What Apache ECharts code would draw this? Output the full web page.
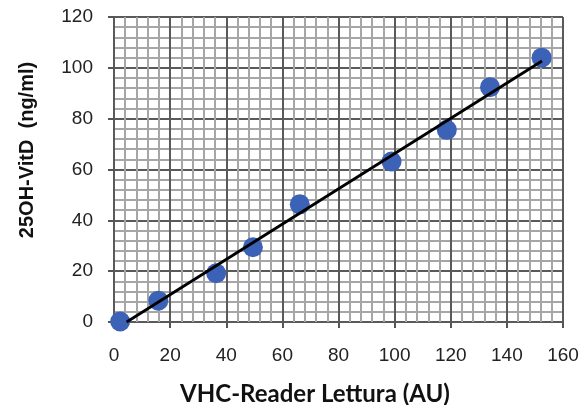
<!DOCTYPE html>
<html><head><meta charset="utf-8">
<script src="https://cdn.jsdelivr.net/npm/echarts@6/dist/echarts.min.js"></script>
<style>html,body{margin:0;padding:0;background:#fff}#c{width:582px;height:405px}</style>
</head><body><div id="c"></div>
<script>
var xValues = [2.2, 15.8, 36.4, 49.5, 66.2, 98.9, 118.6, 134.0, 152.4];
var yValues = [0.2, 8.4, 19.2, 29.4, 46.3, 63.1, 75.6, 92.4, 104.0];
var fitX = [4.5, 152.5];
var fitY = [0.0, 102.7];
var xTicks = [0, 20, 40, 60, 80, 100, 120, 140, 160];
var yTicks = [0, 20, 40, 60, 80, 100, 120];
var xTitle = 'VHC-Reader Lettura (AU)';
var yTitle = '25OH-VitD  (ng/ml)';

var pts = xValues.map(function(x, i){ return [x, yValues[i]]; });
var fit = fitX.map(function(x, i){ return [x, fitY[i]]; });

var chart = echarts.init(document.getElementById('c'), null, {renderer: 'canvas'});
chart.setOption({
  animation: false,
  backgroundColor: '#ffffff',
  grid: {left: 114, right: 19, top: 17, bottom: 83},
  xAxis: {
    type: 'value', min: xTicks[0], max: xTicks[xTicks.length-1], interval: 20,
    axisLine: {show: false},
    axisTick: {show: true, length: 6, lineStyle: {color: '#555', width: 2}},
    axisLabel: {margin: 24, fontFamily: 'Liberation Sans, Arial', fontSize: 19, color: '#222'},
    splitLine: {show: true, lineStyle: {color: '#5a5a5a', width: 2}},
    minorTick: {show: false, splitNumber: 5},
    minorSplitLine: {show: true, lineStyle: {color: '#a6a6a6', width: 2}}
  },
  yAxis: {
    type: 'value', min: yTicks[0], max: yTicks[yTicks.length-1], interval: 20,
    axisLine: {show: false},
    axisTick: {show: true, length: 6, lineStyle: {color: '#555', width: 2}},
    axisLabel: {margin: 21, fontFamily: 'Liberation Sans, Arial', fontSize: 19, color: '#222'},
    splitLine: {show: true, lineStyle: {color: '#5a5a5a', width: 2}},
    minorTick: {show: false, splitNumber: 5},
    minorSplitLine: {show: true, lineStyle: {color: '#a6a6a6', width: 2}}
  },
  series: [
    {type: 'scatter', data: pts, symbolSize: 20, itemStyle: {color: '#3b62b6', opacity: 1}, z: 3},
    {type: 'line', data: fit, symbol: 'none', lineStyle: {color: '#000', width: 2.8}, z: 4}
  ],
  graphic: [
    {type: 'text', x: 27, y: 150, rotation: Math.PI/2, style: {text: yTitle, font: 'bold 20px "Liberation Sans", Arial', fill: '#111', textAlign: 'center', textVerticalAlign: 'middle'}},
    {type: 'text', x: 315, y: 394, style: {text: xTitle, font: 'bold 24px Lato', fill: '#111', textAlign: 'center', textVerticalAlign: 'middle'}}
  ]
});
</script></body></html>
